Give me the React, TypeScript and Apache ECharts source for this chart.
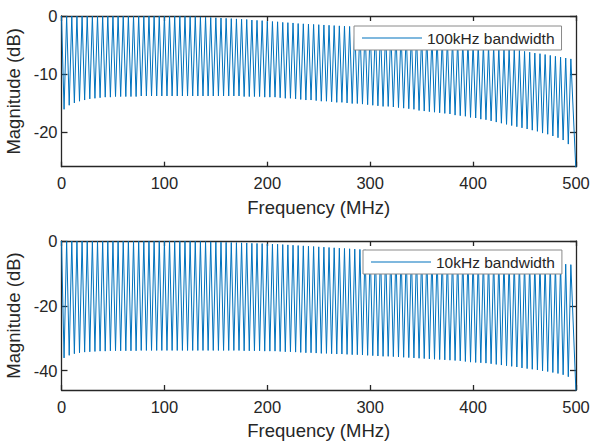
import React, { useEffect, useRef } from "react";
import * as echarts from "echarts";

// Comb response: peaks every 5 MHz (0 ... 495 MHz), troughs halfway between
const peakSpacingMHz = 5;
const xTicks = [0, 100, 200, 300, 400, 500];
const yTicksTop = [0, -10, -20];
const yTicksBottom = [0, -20, -40];

const seriesNameTop = "100kHz bandwidth";
const seriesNameBottom = "10kHz bandwidth";

// peak levels (dB) at 0, 5, 10, ... 495 MHz (top panel)
const peaksTop = [
  0, 0, 0, 0, 0, 0, 0, 0, 0, 0,
  0, 0, 0, 0, 0, 0, 0, 0, 0, 0,
  0, 0, 0, -0.02, -0.05, -0.08, -0.1, -0.15, -0.2, -0.25,
  -0.3, -0.35, -0.4, -0.45, -0.5, -0.55, -0.6, -0.7, -0.75, -0.8,
  -0.9, -0.95, -1.0, -1.1, -1.15, -1.2, -1.3, -1.35, -1.4, -1.45,
  -1.5, -1.55, -1.6, -1.65, -1.7, -1.75, -1.8, -1.9, -2.0, -2.1,
  -2.2, -2.3, -2.4, -2.5, -2.6, -2.7, -2.8, -2.9, -3.0, -3.1,
  -3.2, -3.35, -3.5, -3.6, -3.75, -3.9, -4.0, -4.15, -4.3, -4.45,
  -4.6, -4.75, -4.9, -5.05, -5.2, -5.35, -5.5, -5.65, -5.8, -5.95,
  -6.1, -6.25, -6.4, -6.5, -6.65, -6.8, -6.95, -7.1, -7.25, -7.4,
];
// trough levels (dB) at 2.5, 7.5, ... 492.5 MHz (top panel)
const troughsTop = [
  -16.1, -15.4, -15.0, -14.7, -14.5, -14.3, -14.2, -14.1, -14.0, -14.0,
  -13.9, -13.9, -13.9, -13.9, -13.9, -13.8, -13.8, -13.8, -13.8, -13.8,
  -13.8, -13.8, -13.8, -13.8, -13.8, -13.8, -13.8, -13.8, -13.8, -13.8,
  -13.8, -13.8, -13.8, -13.8, -13.8, -13.9, -13.9, -13.9, -13.9, -14.0,
  -14.0, -14.0, -14.1, -14.2, -14.2, -14.3, -14.4, -14.5, -14.5, -14.6,
  -14.7, -14.7, -14.8, -14.9, -14.9, -15.0, -15.1, -15.1, -15.2, -15.3,
  -15.4, -15.5, -15.6, -15.6, -15.7, -15.8, -15.9, -16.0, -16.1, -16.3,
  -16.4, -16.5, -16.6, -16.7, -16.8, -16.9, -17.1, -17.2, -17.3, -17.5,
  -17.6, -17.8, -17.9, -18.1, -18.3, -18.5, -18.7, -18.9, -19.1, -19.3,
  -19.5, -19.7, -19.9, -20.2, -20.4, -20.7, -21.0, -21.4, -22.1,
];
const endTop = -27; // value at 500 MHz (falls below the axis)

// bottom panel
const peaksBottom = [
  0, 0, 0, 0, 0, 0, 0, 0, 0, 0,
  0, 0, 0, 0, 0, 0, 0, 0, 0, 0,
  0, 0, 0, -0.02, -0.05, -0.08, -0.1, -0.15, -0.2, -0.25,
  -0.3, -0.35, -0.4, -0.45, -0.5, -0.55, -0.6, -0.7, -0.75, -0.8,
  -0.9, -0.95, -1.0, -1.1, -1.2, -1.3, -1.4, -1.5, -1.6, -1.7,
  -1.8, -1.9, -2.0, -2.1, -2.2, -2.3, -2.4, -2.5, -2.6, -2.7,
  -2.8, -2.9, -3.0, -3.1, -3.2, -3.3, -3.4, -3.5, -3.6, -3.7,
  -3.8, -3.9, -4.0, -4.1, -4.2, -4.3, -4.4, -4.5, -4.6, -4.7,
  -4.8, -4.9, -5.0, -5.15, -5.3, -5.45, -5.6, -5.75, -5.9, -6.05,
  -6.2, -6.3, -6.4, -6.5, -6.6, -6.7, -6.85, -7.0, -7.15, -7.3,
];
const troughsBottom = [
  -36.1, -35.3, -34.8, -34.5, -34.3, -34.2, -34.1, -34.0, -34.0, -33.9,
  -33.9, -33.9, -33.9, -33.9, -33.9, -33.8, -33.8, -33.8, -33.8, -33.8,
  -33.8, -33.8, -33.8, -33.8, -33.8, -33.8, -33.8, -33.8, -33.8, -33.8,
  -33.8, -33.8, -33.8, -33.8, -33.8, -33.9, -33.9, -33.9, -33.9, -34.0,
  -34.0, -34.0, -34.1, -34.2, -34.2, -34.3, -34.4, -34.5, -34.5, -34.6,
  -34.7, -34.7, -34.8, -34.9, -34.9, -35.0, -35.1, -35.1, -35.2, -35.3,
  -35.4, -35.5, -35.6, -35.6, -35.7, -35.8, -35.9, -36.0, -36.1, -36.2,
  -36.3, -36.4, -36.5, -36.6, -36.7, -36.8, -36.9, -37.0, -37.2, -37.4,
  -37.5, -37.6, -37.7, -37.9, -38.1, -38.3, -38.5, -38.7, -38.9, -39.2,
  -39.4, -39.6, -39.8, -40.1, -40.3, -40.6, -40.9, -41.3, -41.9,
];
const endBottom = -47;

function buildPoints(peaks: number[], troughs: number[], endVal: number) {
  const pts: number[][] = [];
  peaks.forEach((p, i) => {
    pts.push([i * peakSpacingMHz, p]);
    if (i < troughs.length) pts.push([i * peakSpacingMHz + peakSpacingMHz / 2, troughs[i]]);
  });
  pts.push([xTicks[xTicks.length - 1], endVal]);
  return pts;
}

const FONT = "'Liberation Sans', Arial, Helvetica, sans-serif";
const AX = "#262626";
const LINE = "#0072BD";

export default function App() {
  const ref = useRef<HTMLDivElement>(null);
  useEffect(() => {
    if (!ref.current) return;
    const chart = echarts.init(ref.current, undefined, { renderer: "svg" });
    const axisLine = { show: true, onZero: false, lineStyle: { color: AX, width: 1.3 } };
    const mkX = (grid: number, bottom: boolean) => ({
      type: "value",
      gridIndex: grid,
      position: bottom ? "bottom" : "top",
      min: 0,
      max: 500,
      interval: 100,
      axisLine,
      axisTick: { show: true, inside: true, length: 5, lineStyle: { color: AX, width: 1.3 } },
      axisLabel: {
        show: bottom,
        margin: 8,
        fontSize: 16.5,
        color: AX,
        fontFamily: FONT,
      },
      splitLine: { show: false },
      name: bottom ? "Frequency (MHz)" : "",
      nameLocation: "middle",
      nameGap: 31,
      nameTextStyle: { fontSize: 18.5, color: AX, fontFamily: FONT },
    });
    const mkY = (grid: number, left: boolean, min: number, ticks: number[]) => ({
      type: "value",
      gridIndex: grid,
      position: left ? "left" : "right",
      min,
      max: 0,
      axisLine,
      axisTick: {
        show: true,
        inside: true,
        length: 6,
        customValues: ticks,
        lineStyle: { color: AX, width: 1.3 },
      },
      axisLabel: {
        show: left,
        margin: 4,
        fontSize: 16.5,
        color: AX,
        fontFamily: FONT,
        customValues: ticks,
      },
      splitLine: { show: false },
      name: left ? "Magnitude (dB)" : "",
      nameLocation: "middle",
      nameGap: 32,
      nameTextStyle: { fontSize: 18.5, color: AX, fontFamily: FONT },
    });
    const mkLegend = (name: string, left: number, top: number) => ({
      data: [name],
      left,
      top,
      orient: "horizontal",
      selectedMode: false,
      icon: "rect",
      itemWidth: 60,
      itemHeight: 1,
      padding: [4, 7, 4, 8],
      backgroundColor: "#ffffff",
      borderColor: "#8a8a8a",
      borderWidth: 1,
      borderRadius: 0,
      textStyle: { fontSize: 15.5, color: AX, fontFamily: FONT },
    });
    chart.setOption({
      animation: false,
      backgroundColor: "#ffffff",
      grid: [
        { left: 61.5, right: 17, top: 16, height: 150.7, containLabel: false, outerBoundsMode: "none" },
        { left: 61.5, right: 17, top: 241, height: 149, containLabel: false, outerBoundsMode: "none" },
      ],
      xAxis: [mkX(0, true), mkX(0, false), mkX(1, true), mkX(1, false)],
      yAxis: [
        mkY(0, true, -26, yTicksTop),
        mkY(0, false, -26, yTicksTop),
        mkY(1, true, -46, yTicksBottom),
        mkY(1, false, -46, yTicksBottom),
      ],
      legend: [
        mkLegend(seriesNameTop, 354, 26),
        mkLegend(seriesNameBottom, 363, 250),
      ],
      series: [
        {
          name: seriesNameTop,
          type: "line",
          xAxisIndex: 0,
          yAxisIndex: 0,
          data: buildPoints(peaksTop, troughsTop, endTop),
          symbol: "none",
          clip: true,
          lineStyle: { color: LINE, width: 1 },
          itemStyle: { color: LINE },
        },
        {
          name: seriesNameBottom,
          type: "line",
          xAxisIndex: 2,
          yAxisIndex: 2,
          data: buildPoints(peaksBottom, troughsBottom, endBottom),
          symbol: "none",
          clip: true,
          lineStyle: { color: LINE, width: 1 },
          itemStyle: { color: LINE },
        },
      ],
    });
    return () => chart.dispose();
  }, []);
  return (
    <div
      ref={ref}
      style={{ position: "absolute", left: 0, top: 0, width: 593, height: 441 }}
    />
  );
}
